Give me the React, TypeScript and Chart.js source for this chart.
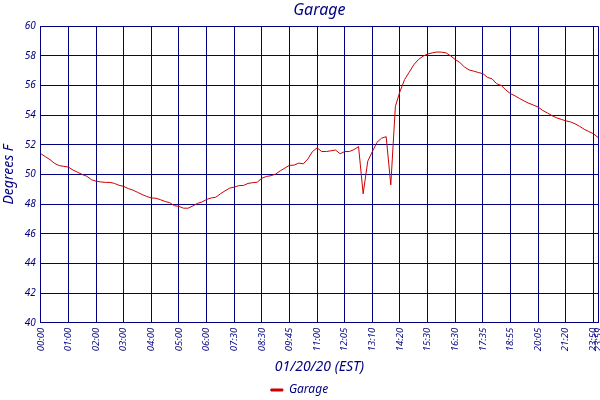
import { useEffect, useRef } from 'react';
import Chart from 'chart.js/auto';

// tick labels shown on the x axis and the point index each one sits at
const tickTimes = [
  '00:00', '01:00', '02:00', '03:00', '04:00', '05:00', '06:00', '07:30', '08:30', '09:45',
  '11:00', '12:05', '13:10', '14:20', '15:30', '16:30', '17:35', '18:55', '20:05', '21:20',
  '23:50', '23:59',
];
const tickIndex = [
  0, 6, 12, 18, 24, 30, 36, 42, 48, 54,
  60, 66, 72, 78, 84, 90, 96, 102, 108, 114,
  120, 121,
];

// garage temperature, degrees F
const garageTemps = [
  51.4, 51.2, 51.0, 50.75, 50.6, 50.55, 50.5, 50.3, 50.15, 50.0,
  49.88, 49.65, 49.55, 49.5, 49.47, 49.47, 49.4, 49.27, 49.2, 49.05,
  48.95, 48.8, 48.65, 48.52, 48.42, 48.4, 48.3, 48.18, 48.1, 47.9,
  47.85, 47.73, 47.73, 47.88, 48.05, 48.15, 48.32, 48.42, 48.47, 48.7,
  48.9, 49.08, 49.15, 49.25, 49.26, 49.4, 49.45, 49.48, 49.75, 49.87,
  49.92, 50.03, 50.25, 50.43, 50.62, 50.63, 50.77, 50.72, 51.05, 51.55,
  51.8, 51.55, 51.55, 51.6, 51.65, 51.4, 51.55, 51.55, 51.68, 51.88,
  48.7, 50.9, 51.55, 52.17, 52.45, 52.55, 49.3, 54.6, 55.6, 56.4,
  56.9, 57.4, 57.75, 57.98, 58.12, 58.2, 58.26, 58.25, 58.2, 58.0,
  57.75, 57.55, 57.25, 57.05, 56.97, 56.88, 56.8, 56.55, 56.45, 56.12,
  56.0, 55.7, 55.45, 55.3, 55.12, 54.95, 54.8, 54.68, 54.55, 54.32,
  54.15, 53.97, 53.82, 53.72, 53.62, 53.55, 53.42, 53.25, 53.05, 52.9,
  52.75, 52.5,
];

const navy = '#000080';
const font = 'Noto Sans';

export default function App() {
  const ref = useRef<HTMLCanvasElement | null>(null);

  useEffect(() => {
    document.body.style.margin = '0';
    if (!ref.current) return;
    const labels = garageTemps.map((_, i) => {
      const k = tickIndex.indexOf(i);
      return k >= 0 ? tickTimes[k] : '';
    });
    const onlyLabelled = (scale: any) => {
      scale.ticks = scale.ticks.filter((t: any) => labels[t.value] !== '');
    };
    const chart = new Chart(ref.current, {
      type: 'line',
      data: {
        labels,
        datasets: [
          {
            label: 'Garage',
            data: garageTemps,
            borderColor: '#cc0000',
            backgroundColor: '#cc0000',
            borderWidth: 1,
            pointRadius: 0,
            tension: 0,
          },
        ],
      },
      options: {
        animation: false,
        responsive: true,
        maintainAspectRatio: false,
        layout: { padding: { top: 1, right: 2, left: 1, bottom: 1 } },
        plugins: {
          title: { display: false },
          tooltip: { enabled: false },
          legend: {
            position: 'bottom',
            maxHeight: 17,
            labels: {
              color: navy,
              boxWidth: 12,
              boxHeight: 2,
              padding: 2,
              font: { family: font, size: 12, style: 'italic' },
            },
          },
        },
        scales: {
          x: {
            afterBuildTicks: onlyLabelled,
            afterFit: (scale: any) => {
              scale.paddingLeft = 0;
              scale.paddingRight = 0;
            },
            border: { color: navy, width: 1 },
            grid: { color: navy, lineWidth: 1, drawTicks: false },
            ticks: {
              autoSkip: false,
              maxRotation: 90,
              minRotation: 90,
              padding: 5,
              color: navy,
              font: { family: font, size: 9.5, style: 'italic' },
            },
            title: {
              display: true,
              text: '01/20/20 (EST)',
              color: navy,
              padding: { top: 2, bottom: 7 },
              font: { family: font, size: 14, style: 'italic' },
            },
          },
          x2: {
            type: 'category',
            position: 'top',
            labels,
            grid: { display: false, drawTicks: false },
            border: { display: false },
            ticks: { display: false },
            title: {
              display: true,
              text: 'Garage',
              color: navy,
              padding: { top: 0, bottom: 6 },
              font: { family: font, size: 16, style: 'italic' },
            },
          },
          y: {
            min: 40,
            max: 60,
            afterFit: (scale: any) => {
              scale.paddingTop = 0;
              scale.paddingBottom = 0;
            },
            border: { color: navy, width: 1 },
            grid: { color: navy, lineWidth: 1, drawTicks: false },
            ticks: {
              stepSize: 2,
              padding: 5,
              color: navy,
              font: { family: font, size: 10, style: 'italic' },
            },
            title: {
              display: true,
              text: 'Degrees F',
              color: navy,
              padding: { top: 0, bottom: 2 },
              font: { family: font, size: 14, style: 'italic' },
            },
          },
        },
      },
    });
    return () => chart.destroy();
  }, []);

  return (
    <div style={{ position: 'relative', width: 600, height: 400 }}>
      <canvas ref={ref} aria-label="Garage temperature on 01/20/20" />
    </div>
  );
}
